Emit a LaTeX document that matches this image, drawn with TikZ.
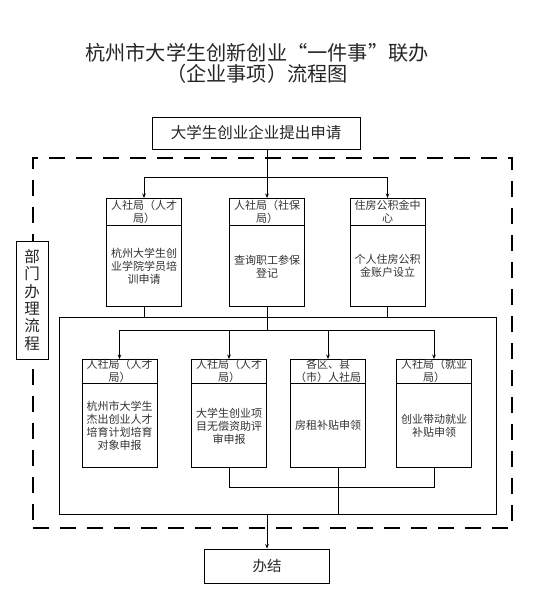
\documentclass[tikz,border=0pt]{standalone}
\usepackage{fontspec}
\setmainfont{Noto Sans CJK SC}
\newfontfamily\titlefont[RawFeature=+fwid]{Noto Sans CJK SC}
\usetikzlibrary{arrows.meta}
\newcommand{\DeptBox}[6]{%
  \node[box, minimum width=75pt, minimum height=108pt, anchor=north] (#1) at (#2,#3) {};
  \draw[line] ([yshift=-#4pt]#1.north west) -- ([yshift=-#4pt]#1.north east);
  \node[txt] (#1h) at ([yshift={-#4pt/2}]#1.north) {#5};
  \node[txt] (#1b) at ([yshift={(108-#4)*0.5pt}]#1.south) {#6};
}
\begin{document}
\begin{tikzpicture}[x=1pt,y=-1pt,
  line/.style={line width=0.8pt, draw=black},
  arr/.style={line, -{Stealth[length=4.5pt,width=3.6pt]}},
  box/.style={draw=black, line width=0.8pt, inner sep=0pt},
  txt/.style={font=\fontsize{11}{13}\selectfont, align=center, text=black!80, inner sep=0pt},
  dept/.style={draw=black, line width=2.2pt, dash pattern=on 16pt off 11pt, inner sep=0pt}
]
\useasboundingbox[fill=white] (0,0) rectangle (540,610);

% title
\node[font=\titlefont\fontsize{20.2}{21}\selectfont, align=center, text=black!85, inner sep=0pt] (title) at (257,63.5)
  {杭州市大学生创新创业“一件事”联办\\（企业事项）流程图};

% dashed department frame
\node[dept, minimum width=479pt, minimum height=370pt] (frame) at (272.5,343) {};

% start box
\node[box, minimum width=208pt, minimum height=32pt, font=\fontsize{15.5}{16}\selectfont, text=black!85] (apply) at (256,133) {大学生创业企业提出申请};

% upper boxes
\DeptBox{u1}{144}{198}{27}{人社局（人才\\局）}{杭州大学生创\\业学院学员培\\训申请}
\DeptBox{u2}{267}{198}{27}{人社局（社保\\局）}{查询职工参保\\登记}
\DeptBox{u3}{387.5}{198}{27}{住房公积金中\\心}{个人住房公积\\金账户设立}

% lower boxes
\DeptBox{l1}{119.5}{359}{24}{人社局（人才\\局）}{杭州市大学生\\杰出创业人才\\培育计划培育\\对象申报}
\DeptBox{l2}{229}{359}{24}{人社局（人才\\局）}{大学生创业项\\目无偿资助评\\审申报}
\DeptBox{l3}{328}{359}{24}{各区、县\\（市）人社局}{房租补贴申领}
\DeptBox{l4}{434}{359}{24}{人社局（就业\\局）}{创业带动就业\\补贴申领}

% side label
\node[box, fill=white, minimum width=31.5pt, minimum height=118pt, align=center,
      font=\fontsize{15.5}{17.3}\selectfont, text=black!85] (lbl) at (32.2,300) {部\\门\\办\\理\\流\\程};

% end box
\node[box, minimum width=125pt, minimum height=34pt, font=\fontsize{14.5}{15}\selectfont, text=black!85] (done) at (267,566) {办结};

% upper hub
\coordinate (h1) at (267,177);
\draw[line] (apply.south -| h1) -- (h1);
\draw[line] (u1.north |- h1) -- (u3.north |- h1);
\draw[arr] (u1.north |- h1) -- (u1.north);
\draw[arr] (u2.north |- h1) -- (u2.north);
\draw[arr] (u3.north |- h1) -- (u3.north);

% inner frame
\coordinate (iTL) at (59,317);
\coordinate (iBR) at (496.5,514);
\draw[line] (iTL) rectangle (iBR);
\draw[line] (u1.south) -- (u1.south |- iTL);
\draw[line] (u3.south) -- (u3.south |- iTL);

% lower hub
\coordinate (h2) at (267,330);
\draw[line] (u2.south) -- (u2.south |- h2);
\draw[line] (l1.north |- h2) -- (l4.north |- h2);
\draw[arr] (l1.north |- h2) -- (l1.north);
\draw[arr] (l2.north |- h2) -- (l2.north);
\draw[arr] (l3.north |- h2) -- (l3.north);
\draw[arr] (l4.north |- h2) -- (l4.north);

% lower outputs
\coordinate (h3) at (0,487);
\draw[line] (l2.south) -- (l2.south |- h3) -- (l4.south |- h3) -- (l4.south);
\draw[line] ([xshift=10pt]l3.south) -- ([xshift=10pt]l3.south |- iBR);

% to end
\draw[arr] (done.north |- iBR) -- (done.north);
\end{tikzpicture}
\end{document}
